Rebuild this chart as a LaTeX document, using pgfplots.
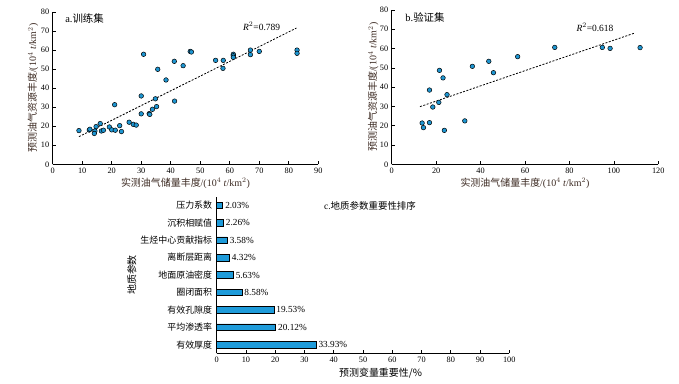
\documentclass[border=0pt]{standalone}
\usepackage{fontspec}
\setmainfont{Liberation Serif}
\newfontfamily\cjk{Noto Sans CJK SC}
\usepackage{pgfplots}
\pgfplotsset{compat=1.18}
\definecolor{dotblue}{HTML}{1E96D2}
\definecolor{barblue}{HTML}{1E9BDA}
\definecolor{lab}{HTML}{3C2A22}
\pgfplotsset{myax/.style={scale only axis, axis x line*=bottom, axis y line*=left,
  tick align=inside, major tick length=3bp, tick style={black, line width=0.6pt},
  axis line style={line width=0.8pt},
  ticklabel style={font=\fontsize{8.3}{9}\selectfont},
  /pgf/number format/assume math mode=true,
  label style={font=\fontsize{10}{12}\selectfont, text=lab},
  clip=false}}
\begin{document}
\begin{tikzpicture}
\path[use as bounding box] (0bp,0bp) rectangle (679bp,384bp);
% ---------- panel a
\begin{axis}[myax, at={(52.7bp,219.7bp)}, anchor=south west, width=265.6bp, height=152.3bp,
  xmin=0, xmax=90, ymin=0, ymax=80, xtick={0,10,...,90}, ytick={0,10,...,80},
  xlabel={{\cjk 实测油气储量丰度}/(10$^4$ \textit{t}/km$^2$)},
  ylabel={{\cjk 预测油气资源丰度}/(10$^4$ \textit{t}/km$^2$)},
  xlabel style={at={(axis description cs:0.5,-0.123)}, anchor=center},
  ylabel style={at={(axis description cs:-0.074,0.5)}, anchor=center}]
\addplot[only marks, mark=*, mark size=2.3bp, mark options={fill=dotblue, draw=black, line width=0.5pt}] table {
x y
8.9 17.7
12.4 18.0
12.6 18.4
14.3 17.5
14.1 16.2
14.7 19.8
16.1 21.4
16.5 17.5
17.2 17.9
19.2 19.6
20.0 18.1
21.2 17.9
22.7 20.3
23.3 17.2
21.0 31.3
25.9 22.1
27.3 21.0
28.3 20.6
30.0 26.5
30.0 35.9
30.8 57.8
32.7 26.6
32.9 26.2
33.8 28.9
34.8 34.4
35.2 30.3
35.6 49.9
38.4 44.3
41.2 54.1
41.3 33.2
44.2 51.8
46.6 59.3
47.0 59.0
55.2 54.6
57.8 54.6
57.7 50.4
61.2 57.8
61.2 57.0
61.2 56.2
67.0 60.0
67.0 57.6
70.0 59.3
82.8 60.0
82.8 58.3
};
\addplot[black, line width=0.8pt, dash pattern=on 2bp off 1.5bp] coordinates {(8.9,14.5) (82.6,71.6)};
\node[font=\fontsize{9.5}{10}\selectfont] at (axis cs:70.8,72.3) {\textit{R}$^2$=0.789};
\node[font=\fontsize{10.5}{11}\selectfont] at (axis cs:10.8,76.8) {a.{\cjk 训练集}};
\end{axis}
% ---------- panel b
\begin{axis}[myax, at={(391.7bp,219.7bp)}, anchor=south west, width=266.6bp, height=154.3bp,
  xmin=0, xmax=120, ymin=0, ymax=80, xtick={0,20,...,120}, ytick={0,10,...,80},
  xlabel={{\cjk 实测油气储量丰度}/(10$^4$ \textit{t}/km$^2$)},
  ylabel={{\cjk 预测油气资源丰度}/(10$^4$ \textit{t}/km$^2$)},
  xlabel style={at={(axis description cs:0.5,-0.121)}, anchor=center},
  ylabel style={at={(axis description cs:-0.069,0.5)}, anchor=center}]
\addplot[only marks, mark=*, mark size=2.3bp, mark options={fill=dotblue, draw=black, line width=0.5pt}] table {
x y
13.7 21.4
14.3 19.0
17.0 21.6
17.0 38.5
18.5 29.7
21.2 32.1
21.5 48.7
23.1 44.8
23.7 17.6
24.9 36.1
32.9 22.5
36.3 50.8
43.7 53.4
45.8 47.5
56.7 55.8
73.4 60.6
94.8 60.6
98.3 60.1
111.8 60.5
};
\addplot[black, line width=0.8pt, dash pattern=on 2bp off 1.5bp] coordinates {(12.75,29.9) (109.5,68.1)};
\node[font=\fontsize{9.5}{10}\selectfont] at (axis cs:91.5,71.2) {\textit{R}$^2$=0.618};
\node[font=\fontsize{10.5}{11}\selectfont] at (axis cs:15,76.2) {b.{\cjk 验证集}};
\end{axis}
% ---------- panel c
\begin{axis}[myax, at={(216.7bp,30.7bp)}, anchor=south west, width=292.6bp, height=156.6bp,
  xmin=0, xmax=100, ymin=-0.5, ymax=8.5, xtick={0,10,...,100}, ytick={0,...,8},
  yticklabels={有效厚度, 平均渗透率, 有效孔隙度, 圈闭面积, 地面原油密度, 离断层距离, 生烃中心贡献指标, 沉积相赋值, 压力系数},
  yticklabel style={font=\cjk\fontsize{9}{10}\selectfont, xshift=-1bp},
  ytick style={draw=none},
  xlabel={\cjk 预测变量重要性/\%},
  ylabel={\cjk 地质参数},
  xlabel style={at={(axis description cs:0.56,-0.128)}, anchor=center, text=black},
  ylabel style={at={(axis description cs:-0.29,0.5)}, anchor=center, text=black}]
\addplot[xbar, fill=barblue, draw=black, line width=0.6pt, bar width=6.5bp,
  point meta=explicit symbolic, nodes near coords={\pgfplotspointmeta\%},
  nodes near coords style={font=\fontsize{9.3}{10}\selectfont, anchor=west, black, xshift=-1bp}]
  table[x=x, y=y, meta=m] {
x y m
33.93 0 33.93
20.12 1 20.12
19.53 2 19.53
8.58 3 8.58
5.63 4 5.63
4.32 5 4.32
3.58 6 3.58
2.26 7 2.26
2.03 8 2.03
};
\node[font=\fontsize{9.5}{10}\selectfont] at (axis cs:52.4,8) {c.{\cjk 地质参数重要性排序}};
\end{axis}
\end{tikzpicture}
\end{document}
